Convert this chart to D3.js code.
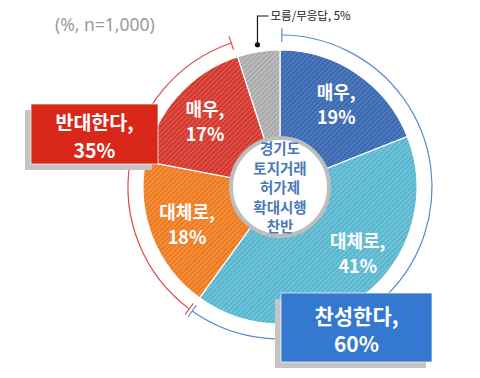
<!DOCTYPE html>
<html>
<head>
<meta charset="utf-8">
<script src="https://cdn.jsdelivr.net/npm/d3@7"></script>
<style>
  html, body { margin: 0; padding: 0; background: #fff; }
  svg { display: block; font-family: "Noto Sans CJK KR", "Noto Sans", sans-serif; }
</style>
</head>
<body>
<div id="chart"></div>
<script>
// slices, clockwise from 12 o'clock
var sliceNames = ["매우", "대체로", "대체로", "매우", "모름/무응답"];
var sliceValues = [19, 41, 18, 17, 5];
var sliceColors = ["#3b69b1", "#57b6cf", "#ee7a1c", "#d3372c", "#a9a9a9"];
var stripeColors = ["#5882c2", "#80cadd", "#f49a55", "#df6158", "#c6c6c6"];

// the two summary groups
var groupNames = ["찬성한다", "반대한다", ""];
var groupValues = [60, 35, 5];
var groupColors = ["#5d8bd2", "#e3484a", "none"];
var boxColors = ["#3578cf", "#d9271a"];

var centerTitle = ["경기도", "토지거래", "허가제", "확대시행", "찬반"];
var note = "(%, n=1,000)";

var W = 480, H = 378;
var cx = 280, cy = 187, R = 137, innerR = 49, ringR = 152;

var svg = d3.select("#chart").append("svg")
    .attr("width", W)
    .attr("height", H);

// striped fills
var defs = svg.append("defs");
sliceColors.forEach(function (c, i) {
    var p = defs.append("pattern")
        .attr("id", "hatch" + i)
        .attr("patternUnits", "userSpaceOnUse")
        .attr("width", 3.5)
        .attr("height", 3.5)
        .attr("patternTransform", "rotate(45)");
    p.append("rect").attr("width", 3.5).attr("height", 3.5).attr("fill", c);
    p.append("rect").attr("width", 1.1).attr("height", 3.5).attr("fill", stripeColors[i]);
});

svg.append("text")
    .attr("x", 55).attr("y", 31)
    .attr("font-family", "'Noto Sans', sans-serif")
    .attr("font-size", 17.5)
    .attr("fill", "#9a9a9a")
    .text(note);

var g = svg.append("g").attr("transform", "translate(" + cx + "," + cy + ")");

var pie = d3.pie().sort(null).value(function (d) { return d; });
var arcs = pie(sliceValues);

var arc = d3.arc().innerRadius(0).outerRadius(R);

g.selectAll(".slice")
    .data(arcs)
    .enter().append("path")
    .attr("class", "slice")
    .attr("d", arc)
    .attr("fill", function (d, i) { return "url(#hatch" + i + ")"; })
    .attr("stroke", "#fff")
    .attr("stroke-width", 1.2);

// outer group rings with end ticks
var groupArcs = pie(groupValues);
var gap = 0.012;
function polar(r, a) { return [r * Math.sin(a), -r * Math.cos(a)]; }

groupArcs.forEach(function (d, i) {
    if (groupColors[i] === "none") return;
    var a0 = d.startAngle + gap, a1 = d.endAngle - gap;
    var p = d3.path();
    p.arc(0, 0, ringR, a0 - Math.PI / 2, a1 - Math.PI / 2);
    g.append("path")
        .attr("d", p.toString())
        .attr("fill", "none")
        .attr("stroke", groupColors[i])
        .attr("stroke-width", 1.2);
    [a0, a1].forEach(function (a) {
        var s = polar(ringR - 7, a), e = polar(ringR + 7, a);
        g.append("line")
            .attr("x1", s[0]).attr("y1", s[1])
            .attr("x2", e[0]).attr("y2", e[1])
            .attr("stroke", groupColors[i])
            .attr("stroke-width", 1.2);
    });
});

// slice labels
var labelArc = d3.arc().innerRadius(200).outerRadius(0);
arcs.forEach(function (d, i) {
    if (i === 4) return;
    var c = labelArc.centroid(d);
    if (i === 1) c = polar(102, d.startAngle + (d.endAngle - d.startAngle) * 0.42);
    var t = g.append("text")
        .attr("text-anchor", "middle")
        .attr("font-size", 18)
        .attr("font-weight", "bold")
        .attr("fill", "#fff");
    t.append("tspan").attr("x", c[0]).attr("y", c[1] - 5).text(sliceNames[i] + ",");
    t.append("tspan").attr("x", c[0]).attr("y", c[1] + 20).text(sliceValues[i] + "%");
});

// inner circle
g.append("circle")
    .attr("r", innerR)
    .attr("fill", "#fff")
    .attr("stroke", "#bdbdbd")
    .attr("stroke-width", 4);

var title = g.append("text")
    .attr("text-anchor", "middle")
    .attr("font-size", 14.5)
    .attr("font-weight", "bold")
    .attr("fill", "#4a78bb");
centerTitle.forEach(function (s, i) {
    title.append("tspan")
        .attr("x", 0)
        .attr("y", -33 + i * 19.5)
        .text(s);
});

// callout for the small gray slice
var small = arcs[4];
var mid = (small.startAngle + small.endAngle) / 2;
var dot = polar(144, mid);
var dx = cx + dot[0], dy = cy + dot[1];
svg.append("circle").attr("cx", dx).attr("cy", dy).attr("r", 2.6).attr("fill", "#111");
svg.append("polyline")
    .attr("points", [[dx, dy], [dx, 16], [dx + 11, 16]].map(function (p) { return p.join(","); }).join(" "))
    .attr("fill", "none")
    .attr("stroke", "#111")
    .attr("stroke-width", 1.2);
svg.append("text")
    .attr("x", dx + 13).attr("y", 20)
    .attr("font-size", 11.5)
    .attr("fill", "#222")
    .text(sliceNames[4] + ", " + sliceValues[4] + "%");

// summary boxes
function summaryBox(x, y, w, h, idx, fs) {
    svg.append("rect")
        .attr("x", x - 6).attr("y", y + 6)
        .attr("width", w).attr("height", h)
        .attr("fill", "#c4c4c4");
    svg.append("rect")
        .attr("x", x).attr("y", y)
        .attr("width", w).attr("height", h)
        .attr("fill", boxColors[idx])
        .attr("stroke", "#fff")
        .attr("stroke-opacity", 0.7)
        .attr("stroke-width", 1);
    var t = svg.append("text")
        .attr("text-anchor", "middle")
        .attr("font-size", fs)
        .attr("font-weight", "bold")
        .attr("fill", "#fff");
    t.append("tspan").attr("x", x + w / 2).attr("y", y + h / 2 - 4).text(groupNames[idx] + ",");
    t.append("tspan").attr("x", x + w / 2).attr("y", y + h / 2 + 24).text(groupValues[idx] + "%");
}
summaryBox(31, 104, 127, 60, 1, 19.5);
summaryBox(281, 293, 151, 69, 0, 21);
</script>
</body>
</html>
